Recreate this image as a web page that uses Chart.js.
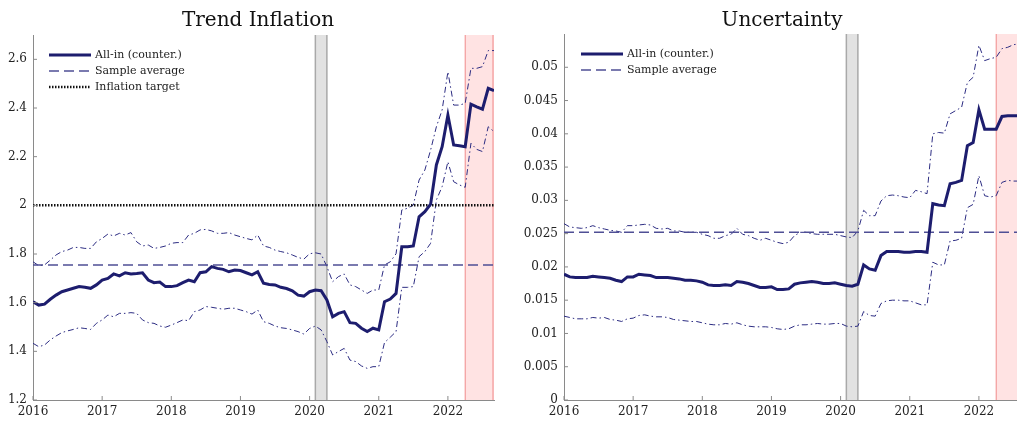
<!DOCTYPE html>
<html>
<head>
<meta charset="utf-8">
<script src="https://cdn.jsdelivr.net/npm/chart.js@4.4.1/dist/chart.umd.min.js"></script>
<style>
  html, body { margin: 0; padding: 0; background: #fff; overflow: hidden; width: 1017px; height: 423px; }
  .box { position: absolute; top: 0; height: 423px; }
</style>
</head>
<body>
<div class="box" style="left:0;width:510px"><canvas id="trend" width="510" height="423"></canvas></div>
<div class="box" style="left:510px;width:530px"><canvas id="unc" width="530" height="423"></canvas></div>
<script>
// monthly observations, Jan 2016 .. Sep 2022
const startYear = 2016;
const endYear = 2022 + 8 / 12;
const yearTicks = [2016, 2017, 2018, 2019, 2020, 2021, 2022];
const trendTicks = [1.2, 1.4, 1.6, 1.8, 2, 2.2, 2.4, 2.6];
const uncTicks = [0, 0.005, 0.01, 0.015, 0.02, 0.025, 0.03, 0.035, 0.04, 0.045, 0.05];
const covidBand = [2020 + 1 / 12, 2020 + 3 / 12];
const forecastBand = [2022 + 3 / 12, endYear];

const trendAllIn = [
  1.604, 1.590, 1.594, 1.614, 1.631, 1.645, 1.652, 1.659, 1.666, 1.663, 1.659, 1.673,
  1.693, 1.700, 1.718, 1.710, 1.723, 1.718, 1.720, 1.723, 1.693, 1.682, 1.685, 1.666,
  1.666, 1.670, 1.682, 1.693, 1.686, 1.723, 1.727, 1.748, 1.741, 1.737, 1.727, 1.734,
  1.732, 1.723, 1.714, 1.727, 1.680, 1.675, 1.673, 1.663, 1.658, 1.649, 1.631, 1.627,
  1.645, 1.652, 1.649, 1.611, 1.542, 1.556, 1.563, 1.518, 1.515, 1.495, 1.481, 1.495,
  1.488, 1.604, 1.615, 1.638, 1.830, 1.830, 1.833, 1.953, 1.974, 2.005, 2.166, 2.241,
  2.371, 2.248, 2.245, 2.241, 2.416, 2.405, 2.395, 2.481, 2.471
];
const trendUpper = [
  1.768, 1.752, 1.755, 1.775, 1.796, 1.810, 1.816, 1.827, 1.827, 1.823, 1.823, 1.850,
  1.864, 1.882, 1.874, 1.885, 1.878, 1.888, 1.850, 1.833, 1.837, 1.823, 1.827, 1.833,
  1.844, 1.847, 1.847, 1.878, 1.885, 1.899, 1.901, 1.895, 1.885, 1.885, 1.888, 1.878,
  1.871, 1.864, 1.858, 1.878, 1.833, 1.827, 1.816, 1.810, 1.805, 1.796, 1.786, 1.779,
  1.801, 1.805, 1.800, 1.748, 1.686, 1.707, 1.718, 1.673, 1.666, 1.652, 1.638, 1.652,
  1.652, 1.755, 1.768, 1.801, 1.981, 1.988, 2.001, 2.104, 2.145, 2.227, 2.323, 2.392,
  2.549, 2.412, 2.412, 2.419, 2.563, 2.563, 2.570, 2.636, 2.636
];
const trendLower = [
  1.433, 1.419, 1.426, 1.447, 1.463, 1.477, 1.484, 1.490, 1.497, 1.494, 1.490, 1.515,
  1.529, 1.549, 1.542, 1.556, 1.556, 1.559, 1.556, 1.529, 1.518, 1.515, 1.504, 1.499,
  1.508, 1.518, 1.529, 1.526, 1.563, 1.570, 1.584, 1.581, 1.577, 1.573, 1.577, 1.577,
  1.570, 1.563, 1.553, 1.570, 1.522, 1.515, 1.504, 1.497, 1.494, 1.488, 1.481, 1.471,
  1.494, 1.504, 1.488, 1.440, 1.385, 1.399, 1.412, 1.364, 1.358, 1.340, 1.330, 1.337,
  1.337, 1.436, 1.458, 1.481, 1.663, 1.663, 1.666, 1.789, 1.810, 1.844, 2.022, 2.077,
  2.179, 2.097, 2.084, 2.074, 2.255, 2.230, 2.221, 2.323, 2.303
];
const trendAverage = 1.755;
const inflationTarget = 2;

const uncAllIn = [
  0.0189, 0.0185, 0.0184, 0.0184, 0.0184, 0.0186, 0.0185, 0.0184, 0.0183, 0.0180, 0.0178, 0.0185,
  0.0185, 0.0189, 0.0188, 0.0187, 0.0184, 0.0184, 0.0184, 0.0183, 0.0182, 0.0180, 0.0180, 0.0179,
  0.0177, 0.0173, 0.0172, 0.0172, 0.0173, 0.0172, 0.0178, 0.0177, 0.0175, 0.0172, 0.0169, 0.0169,
  0.0170, 0.0166, 0.0166, 0.0167, 0.0174, 0.0176, 0.0177, 0.0178, 0.0177, 0.0175, 0.0175, 0.0176,
  0.0174, 0.0172, 0.0171, 0.0174, 0.0203, 0.0197, 0.0195, 0.0217, 0.0223, 0.0223, 0.0223, 0.0222,
  0.0222, 0.0223, 0.0223, 0.0222, 0.0295, 0.0293, 0.0292, 0.0325, 0.0327, 0.0330, 0.0382, 0.0387,
  0.0436, 0.0407, 0.0407, 0.0407, 0.0426, 0.0427, 0.0427, 0.0427, 0.0426
];
const uncUpper = [
  0.0265, 0.0260, 0.0259, 0.0258, 0.0259, 0.0262, 0.0259, 0.0257, 0.0255, 0.0254, 0.0252, 0.0262,
  0.0262, 0.0263, 0.0264, 0.0263, 0.0258, 0.0257, 0.0258, 0.0254, 0.0254, 0.0252, 0.0252, 0.0252,
  0.0249, 0.0247, 0.0243, 0.0243, 0.0247, 0.0249, 0.0258, 0.0249, 0.0247, 0.0243, 0.0240, 0.0243,
  0.0240, 0.0237, 0.0235, 0.0237, 0.0247, 0.0252, 0.0252, 0.0250, 0.0249, 0.0249, 0.0249, 0.0249,
  0.0247, 0.0245, 0.0244, 0.0254, 0.0285, 0.0277, 0.0277, 0.0299, 0.0307, 0.0308, 0.0307, 0.0305,
  0.0304, 0.0315, 0.0313, 0.0310, 0.0400, 0.0402, 0.0401, 0.0430, 0.0435, 0.0440, 0.0477, 0.0485,
  0.0533, 0.0510, 0.0513, 0.0515, 0.0528, 0.0530, 0.0534, 0.0535, 0.0535
];
const uncLower = [
  0.0126, 0.0124, 0.0122, 0.0122, 0.0122, 0.0124, 0.0123, 0.0124, 0.0121, 0.0120, 0.0118, 0.0122,
  0.0123, 0.0127, 0.0128, 0.0126, 0.0125, 0.0125, 0.0124, 0.0121, 0.0120, 0.0119, 0.0118, 0.0118,
  0.0116, 0.0114, 0.0113, 0.0113, 0.0115, 0.0114, 0.0116, 0.0113, 0.0111, 0.0110, 0.0110, 0.0110,
  0.0109, 0.0107, 0.0106, 0.0107, 0.0111, 0.0113, 0.0113, 0.0114, 0.0115, 0.0114, 0.0114, 0.0115,
  0.0115, 0.0111, 0.0110, 0.0111, 0.0133, 0.0127, 0.0126, 0.0145, 0.0149, 0.0150, 0.0150, 0.0149,
  0.0149, 0.0146, 0.0143, 0.0143, 0.0207, 0.0203, 0.0203, 0.0239, 0.0240, 0.0243, 0.0289, 0.0294,
  0.0337, 0.0307, 0.0305, 0.0307, 0.0327, 0.0330, 0.0329, 0.0329, 0.0329
];
const uncAverage = 0.0252;

const NAVY = '#1d1d6e';
const AVG = '#4f4f95';
const BAND = '#2c2c82';
const SERIF = '"DejaVu Serif", "Liberation Serif", serif';

const toPoints = arr => arr.map((v, i) => ({x: startYear + i / 12, y: v}));
const flat = v => [{x: startYear, y: v}, {x: endYear, y: v}];
const fmt = v => String(Number(v.toFixed(4)));

// bands, inward ticks, title and legend
const decor = {
  id: 'decor',
  beforeDatasetsDraw(chart) {
    const {ctx, chartArea: a, scales: {x}} = chart;
    ctx.save();
    let x0 = x.getPixelForValue(covidBand[0]);
    let x1 = x.getPixelForValue(covidBand[1]);
    ctx.fillStyle = '#e2e2e2';
    ctx.fillRect(x0, a.top, x1 - x0, a.bottom - a.top);
    ctx.strokeStyle = '#a9a9a9';
    ctx.lineWidth = 1.5;
    ctx.beginPath();
    ctx.moveTo(x0, a.top); ctx.lineTo(x0, a.bottom);
    ctx.moveTo(x1, a.top); ctx.lineTo(x1, a.bottom);
    ctx.stroke();

    x0 = x.getPixelForValue(forecastBand[0]);
    x1 = x.getPixelForValue(forecastBand[1]);
    ctx.fillStyle = 'rgba(255, 40, 40, 0.13)';
    ctx.fillRect(x0, a.top, x1 - x0, a.bottom - a.top);
    ctx.strokeStyle = '#f08a8a';
    ctx.lineWidth = 1;
    ctx.beginPath();
    ctx.moveTo(x0, a.top); ctx.lineTo(x0, a.bottom);
    ctx.moveTo(x1 - 1, a.top); ctx.lineTo(x1 - 1, a.bottom);
    ctx.stroke();
    ctx.restore();
  },
  afterDraw(chart, args, opts) {
    const {ctx, chartArea: a, scales: {x, y}} = chart;
    ctx.save();
    ctx.strokeStyle = '#8a8a8a';
    ctx.lineWidth = 1;
    ctx.beginPath();
    y.ticks.forEach(t => {
      const py = y.getPixelForValue(t.value);
      ctx.moveTo(a.left, py); ctx.lineTo(a.left + 4, py);
    });
    x.ticks.forEach(t => {
      const px = x.getPixelForValue(t.value);
      ctx.moveTo(px, a.bottom); ctx.lineTo(px, a.bottom - 4);
    });
    ctx.stroke();

    ctx.fillStyle = '#111';
    ctx.font = '20px ' + SERIF;
    ctx.textAlign = 'center';
    ctx.textBaseline = 'alphabetic';
    ctx.fillText(opts.title, opts.titleX, 26);

    ctx.font = '11px ' + SERIF;
    ctx.textAlign = 'left';
    ctx.textBaseline = 'middle';
    opts.legend.forEach((item, i) => {
      const ly = opts.legendY + i * 16;
      ctx.strokeStyle = item.color;
      ctx.lineWidth = item.width;
      ctx.setLineDash(item.dash);
      ctx.beginPath();
      ctx.moveTo(opts.legendX, ly);
      ctx.lineTo(opts.legendX + 42, ly);
      ctx.stroke();
      ctx.setLineDash([]);
      ctx.fillStyle = '#222';
      ctx.fillText(item.label, opts.legendX + 46, ly);
    });
    ctx.restore();
  }
};

function makeChart(id, cfg) {
  const tickFont = {family: SERIF, size: 12};
  return new Chart(document.getElementById(id), {
    type: 'line',
    data: {datasets: cfg.datasets},
    options: {
      responsive: false,
      animation: false,
      devicePixelRatio: 1,
      layout: {padding: {top: cfg.top, right: cfg.right, left: 0, bottom: 0}},
      elements: {point: {radius: 0}, line: {tension: 0}},
      scales: {
        x: {
          type: 'linear', min: startYear, max: endYear,
          afterBuildTicks: s => { s.ticks = yearTicks.map(v => ({value: v})); },
          afterFit: s => { s.height = 23; },
          grid: {drawOnChartArea: false, drawTicks: false},
          border: {display: true, color: '#8a8a8a', width: 1},
          ticks: {padding: 5, font: tickFont, color: '#222', maxRotation: 0, autoSkip: false, callback: v => String(v)}
        },
        y: {
          type: 'linear', min: cfg.ymin, max: cfg.ymax,
          afterBuildTicks: s => { s.ticks = cfg.ticks.map(v => ({value: v})); },
          afterFit: s => { s.width = cfg.axisWidth; },
          grid: {drawOnChartArea: false, drawTicks: false},
          border: {display: true, color: '#8a8a8a', width: 1},
          ticks: {padding: 6, font: tickFont, color: '#222', autoSkip: false, callback: v => fmt(v)}
        }
      },
      plugins: {
        legend: {display: false},
        tooltip: {enabled: false},
        decor: cfg.decor
      }
    },
    plugins: [decor]
  });
}

const bandStyle = {borderColor: BAND, borderWidth: 1, borderDash: [6, 3, 1.5, 3], fill: false};

makeChart('trend', {
  top: 35, right: 16, axisWidth: 33, ymin: 1.2, ymax: 2.7, ticks: trendTicks,
  datasets: [
    {label: 'All-in (counter.)', data: toPoints(trendAllIn), borderColor: NAVY, borderWidth: 3},
    {label: 'Inflation target', data: flat(inflationTarget), borderColor: '#111', borderWidth: 2.5, borderDash: [1.5, 1.5]},
    {label: 'Sample average', data: flat(trendAverage), borderColor: AVG, borderWidth: 1.5, borderDash: [10, 5]},
    {label: 'upper', data: toPoints(trendUpper), ...bandStyle},
    {label: 'lower', data: toPoints(trendLower), ...bandStyle}
  ],
  decor: {
    title: 'Trend Inflation', titleX: 258, legendX: 49, legendY: 55,
    legend: [
      {label: 'All-in (counter.)', color: NAVY, width: 3, dash: []},
      {label: 'Sample average', color: AVG, width: 1.5, dash: [10, 5]},
      {label: 'Inflation target', color: '#111', width: 2.5, dash: [1.5, 1.5]}
    ]
  }
});

makeChart('unc', {
  top: 34, right: 15, axisWidth: 54, ymin: 0, ymax: 0.055, ticks: uncTicks,
  datasets: [
    {label: 'All-in (counter.)', data: toPoints(uncAllIn), borderColor: NAVY, borderWidth: 3},
    {label: 'Sample average', data: flat(uncAverage), borderColor: AVG, borderWidth: 1.5, borderDash: [10, 5]},
    {label: 'upper', data: toPoints(uncUpper), ...bandStyle},
    {label: 'lower', data: toPoints(uncLower), ...bandStyle}
  ],
  decor: {
    title: 'Uncertainty', titleX: 272, legendX: 71, legendY: 54,
    legend: [
      {label: 'All-in (counter.)', color: NAVY, width: 3, dash: []},
      {label: 'Sample average', color: AVG, width: 1.5, dash: [10, 5]}
    ]
  }
});
</script>
</body>
</html>
